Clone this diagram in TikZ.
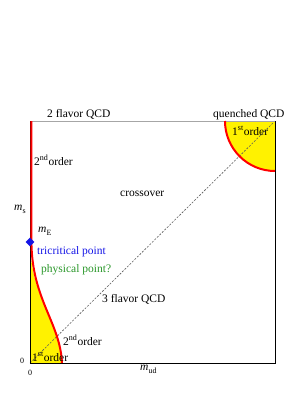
\documentclass[tikz,border=0pt]{standalone}
\usepackage{fontspec}
\setmainfont{Liberation Serif}
\usetikzlibrary{shapes.geometric}
\definecolor{tricblue}{RGB}{20,20,230}
\definecolor{physgreen}{RGB}{40,150,40}
\begin{document}
\begin{tikzpicture}[x=1pt, y=-1pt, >=stealth,
    font=\fontsize{11.5}{13}\selectfont,
    lbl/.style={inner sep=0pt, anchor=base west},
    orderline/.style={red, line width=2pt},
    edge/.style={black, line width=0.8pt}]
    \useasboundingbox (0,0) rectangle (305,394);

    % Corners of the mass plane
    \coordinate (O) at (30,363);
    \coordinate (TL) at (30,121);
    \coordinate (TR) at (275,121);
    \coordinate (BR) at (275,363);
    \coordinate (E) at (30,242);
    \coordinate (Q1) at (225,121);
    \coordinate (Q2) at (275,171);
    \coordinate (L2) at (62,363);

    % First order regions
    \fill[yellow] (E) .. controls (31,300) and (60,322) .. (L2) -- (O) -- cycle;
    \fill[yellow] (TR) -- (Q1) arc[start angle=180, end angle=270, radius=50pt] -- cycle;

    % Diagonal (3 flavor line)
    \draw[black!65, line width=0.6pt, dash pattern=on 2pt off 1.5pt] (O) -- (TR);

    % Frame
    \draw[gray!70, line width=1pt] (TL) -- (TR);
    \draw[edge] (TR) -- (BR) -- (O) -- (TL);

    % Second order lines
    \draw[orderline] ([xshift=1.4pt]TL) -- ([xshift=1.4pt]E) .. controls (32,300) and (60,322) .. (L2);
    \draw[orderline] (Q1) arc[start angle=180, end angle=270, radius=50pt];

    % Tricritical point
    \node[diamond, fill=tricblue, inner sep=0pt, minimum size=9pt] (tric) at (E) {};

    % Labels
    \node[lbl] (twoflav) at (47,117) {2 flavor QCD};
    \node[lbl] (quench) at (213,117) {quenched QCD};
    \node[lbl] (firstQ) at (232,135) {1\textsuperscript{st}order};
    \node[lbl] (secondE) at (34,165) {2\textsuperscript{nd}order};
    \node[lbl] (cross) at (120,196) {crossover};
    \node[lbl] (ms) at (14,210) {\textit{m}\raisebox{-0.6ex}{\footnotesize s}};
    \node[lbl] (mE) at (38,232) {\textit{m}\raisebox{-0.6ex}{\footnotesize E}};
    \node[lbl, tricblue] (trictext) at (37,254) {tricritical point};
    \node[lbl, physgreen] (phys) at (41,272) {physical point?};
    \node[lbl] (threeflav) at (102,302) {3 flavor QCD};
    \node[lbl] (secondL) at (63,345) {2\textsuperscript{nd}order};
    \node[lbl] (firstL) at (32,361) {1\textsuperscript{st}order};
    \node[lbl, font=\fontsize{8}{9}\selectfont] (zeroy) at (20,363) {0};
    \node[lbl, font=\fontsize{8}{9}\selectfont] (zerox) at (28,375) {0};
    \node[lbl] (mud) at (140,370) {\textit{m}\raisebox{-0.6ex}{\footnotesize ud}};
\end{tikzpicture}
\end{document}
